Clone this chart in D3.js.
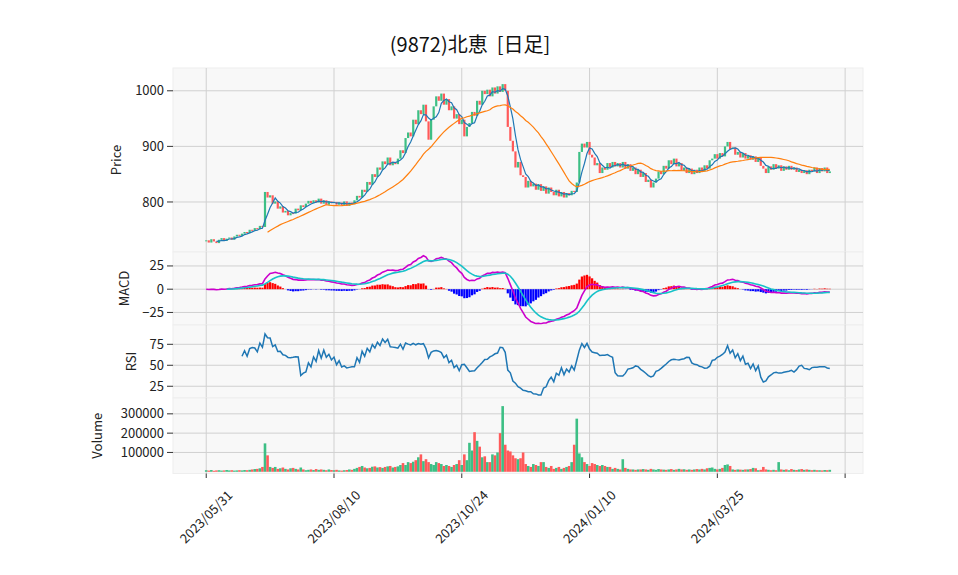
<!DOCTYPE html>
<html><head><meta charset="utf-8">
<script src="https://cdn.jsdelivr.net/npm/d3@7"></script>
<style>body{margin:0;background:#fff;font-family:"Noto Sans CJK JP","Noto Sans",sans-serif;}</style>
</head><body><svg id="chart"></svg>
<script>
// daily closes (yen)
const closes = [
  731,727,733,729,726,732,735,730,734,736,
  732,738,741,739,743,746,744,750,748,753,
  751,757,755,818,808,812,797,801,788,792,
  781,784,776,780,779,788,785,794,791,797,
  802,798,803,799,806,797,803,795,801,798,
  800,795,799,794,801,793,799,796,803,811,
  808,822,818,836,831,850,845,862,858,873,
  868,880,866,872,868,878,893,888,915,925,
  918,948,940,965,958,975,945,912,948,972,
  990,982,995,975,985,965,972,950,958,940,
  948,918,935,942,962,955,982,975,1000,994,
  1002,990,1006,995,1008,998,1012,1000,935,910,
  891,862,872,848,845,826,838,828,833,822,
  832,820,828,815,826,818,812,822,810,818,
  808,816,812,820,818,835,890,905,898,908,
  885,880,866,870,852,862,858,870,862,872,
  864,870,862,872,860,868,856,862,850,858,
  845,852,836,840,826,835,842,855,850,865,
  860,875,868,878,864,870,856,862,852,860,
  850,858,852,862,855,866,860,875,878,886,
  878,888,882,900,908,895,898,885,890,880,
  888,878,884,876,882,872,880,865,860,852,
  864,858,868,860,866,856,864,858,865,858,
  862,854,858,852,857,850,858,855,862,852,
  861,855,862,852,855
];
// daily volume (thousand shares)
const volumes = [
  8,6,9,5,7,8,6,7,9,7,
  8,6,7,8,7,9,8,10,12,14,
  15,18,25,147,85,25,20,25,15,18,
  22,15,12,18,20,15,12,22,12,8,
  10,12,9,14,10,12,10,8,12,9,
  8,10,7,6,8,9,12,10,15,20,
  25,30,22,18,20,26,28,22,24,20,
  25,28,30,22,25,28,35,45,35,50,
  45,52,60,75,90,55,65,50,40,35,
  50,45,40,30,35,30,25,35,40,60,
  35,90,60,150,110,205,160,130,75,80,
  50,50,90,85,100,200,340,140,110,105,
  85,70,65,70,100,40,30,25,40,35,
  30,50,50,25,20,30,15,20,25,15,
  20,25,30,50,140,275,95,75,50,40,
  30,45,40,35,30,35,30,25,25,15,
  20,15,12,65,20,15,12,12,10,12,
  12,14,12,10,15,12,10,14,12,11,
  10,12,14,10,12,15,12,13,10,12,
  10,12,14,12,15,12,18,20,22,15,
  12,15,20,35,38,30,12,10,12,11,
  10,12,12,14,20,18,8,10,25,12,
  10,8,10,8,50,12,10,12,8,14,
  10,9,12,14,10,12,10,8,10,8,
  8,7,9,8,10
];
const tickIdx = [0, 50, 100, 150, 200, 250];
const tickLabels = ['2023/05/31', '2023/08/10', '2023/10/24', '2024/01/10', '2024/03/25', ''];
const title = '(9872)北恵  [日足]';

const W = 958, H = 575;
const svg = d3.select('#chart').attr('width', W).attr('height', H);
const UP = '#3dbf85', DOWN = '#ff5a5a', GRID = '#d0d0d0';

const data = closes.map((c, i) => ({
  i, close: c, open: i === 0 ? c : closes[i - 1], vol: volumes[i] * 1000
}));

function sma(arr, n) {
  return arr.map((v, i) => i < n - 1 ? null : d3.mean(arr.slice(i - n + 1, i + 1)));
}
function ema(arr, n) {
  const k = 2 / (n + 1); let prev = null;
  return arr.map(v => { if (v == null) return null; prev = prev == null ? v : v * k + prev * (1 - k); return prev; });
}
const ma5 = sma(closes, 5), ma25 = sma(closes, 25);
const e12 = ema(closes, 12), e26 = ema(closes, 26);
const macd = closes.map((_, i) => e12[i] - e26[i]);
const signal = ema(macd, 9);
const hist = macd.map((m, i) => m - signal[i]);
// RSI (14, simple rolling)
const rsi = closes.map((_, i) => {
  if (i < 14) return null;
  let g = 0, l = 0;
  for (let j = i - 13; j <= i; j++) { const d = closes[j] - closes[j - 1]; if (d > 0) g += d; else l -= d; }
  return l === 0 ? 100 : 100 - 100 / (1 + g / l);
});

const x = d3.scaleLinear().domain([-13, 257]).range([173, 863]);
const bw = 2.2;

const panels = [
  { top: 68, bottom: 252, domain: [710, 1041], ticks: [800, 900, 1000], label: 'Price', lx: 116 },
  { top: 252, bottom: 325, domain: [-38.5, 40], ticks: [-25, 0, 25], label: 'MACD', lx: 124, fmt: d => d < 0 ? '\u2212' + (-d) : d },
  { top: 325, bottom: 398, domain: [11, 98], ticks: [25, 50, 75], label: 'RSI', lx: 131 },
  { top: 398, bottom: 473.5, domain: [-9000, 382000], ticks: [100000, 200000, 300000], label: 'Volume', lx: 97 }
];

panels.forEach(p => {
  p.y = d3.scaleLinear().domain(p.domain).range([p.bottom, p.top]);
  const g = svg.append('g');
  g.append('rect').attr('x', 173).attr('y', p.top).attr('width', 690).attr('height', p.bottom - p.top)
    .attr('fill', '#f8f8f8').attr('stroke', '#eeeeee');
  p.ticks.forEach(t => {
    g.append('line').attr('x1', 173).attr('x2', 863).attr('y1', p.y(t)).attr('y2', p.y(t)).attr('stroke', GRID);
    g.append('line').attr('x1', 167).attr('x2', 173).attr('y1', p.y(t)).attr('y2', p.y(t)).attr('stroke', '#333');
    g.append('text').attr('x', 164).attr('y', p.y(t)).attr('dy', '0.35em').attr('text-anchor', 'end')
      .attr('font-size', 13).attr('fill', '#222').text(p.fmt ? p.fmt(t) : t);
  });
  tickIdx.forEach(t => {
    g.append('line').attr('x1', x(t)).attr('x2', x(t)).attr('y1', p.top).attr('y2', p.bottom).attr('stroke', GRID);
  });
  g.append('text').attr('transform', `translate(${p.lx},${(p.top + p.bottom) / 2}) rotate(-90)`)
    .attr('dy', '0.35em').attr('text-anchor', 'middle').attr('font-size', 13).attr('fill', '#222').text(p.label);
  p.g = svg.append('g');
});

const [pp, pm, pr, pv] = panels;
const line = (arr, y) => d3.line().defined((d, i) => arr[i] != null).x((d, i) => x(i)).y((d, i) => y(arr[i]))(arr);

// candles
pp.g.selectAll('rect.c').data(data).enter().append('rect')
  .attr('x', d => x(d.i) - bw / 2).attr('width', bw)
  .attr('y', d => pp.y(Math.max(d.open, d.close)))
  .attr('height', d => Math.max(1, Math.abs(pp.y(d.open) - pp.y(d.close))))
  .attr('fill', d => d.close >= d.open ? UP : DOWN);
pp.g.append('path').attr('d', line(ma5, pp.y)).attr('fill', 'none').attr('stroke', '#1f77b4').attr('stroke-width', 1.2);
pp.g.append('path').attr('d', line(ma25, pp.y)).attr('fill', 'none').attr('stroke', '#ff7f0e').attr('stroke-width', 1.2);

// MACD
pm.g.selectAll('rect').data(data.filter(d => d.i >= 8)).enter().append('rect')
  .attr('x', d => x(d.i) - bw / 2).attr('width', bw)
  .attr('y', d => pm.y(Math.max(0, hist[d.i])))
  .attr('height', d => Math.abs(pm.y(0) - pm.y(hist[d.i])))
  .attr('fill', d => hist[d.i] >= 0 ? '#ff0000' : '#0000ff');
pm.g.append('path').attr('d', line(macd, pm.y)).attr('fill', 'none').attr('stroke', '#cc00cc').attr('stroke-width', 1.6);
pm.g.append('path').attr('d', line(signal.map((s, i) => i < 8 ? null : s), pm.y)).attr('fill', 'none').attr('stroke', '#17c2c8').attr('stroke-width', 1.6);

// RSI
pr.g.append('path').attr('d', line(rsi, pr.y)).attr('fill', 'none').attr('stroke', '#1f77b4').attr('stroke-width', 1.5);

// Volume
pv.g.selectAll('rect').data(data).enter().append('rect')
  .attr('x', d => x(d.i) - 1.3).attr('width', 2.6)
  .attr('y', d => pv.y(d.vol)).attr('height', d => pv.y(0) - pv.y(d.vol))
  .attr('fill', d => d.close >= d.open ? UP : DOWN);

// x axis
const ax = svg.append('g');
tickIdx.forEach((t, k) => {
  ax.append('line').attr('x1', x(t)).attr('x2', x(t)).attr('y1', 473.5).attr('y2', 478).attr('stroke', '#333');
  ax.append('text').attr('transform', `translate(${x(t)},${517}) rotate(-45)`)
    .attr('dy', '0.35em').attr('text-anchor', 'middle').attr('font-size', 13).attr('fill', '#222').text(tickLabels[k]);
});

svg.append('text').attr('x', 470).attr('y', 52).attr('text-anchor', 'middle')
  .attr('font-size', 20).attr('fill', '#111').style('white-space', 'pre').text(title);
</script></body></html>
